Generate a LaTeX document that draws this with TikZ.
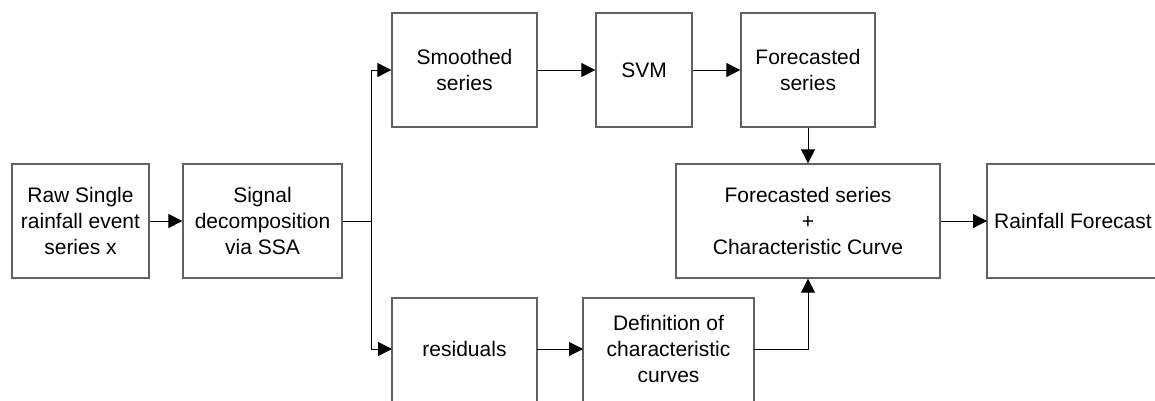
\documentclass[tikz,border=0pt]{standalone}
\usepackage{fontspec}
\setmainfont{Liberation Sans}
\usetikzlibrary{arrows.meta}
\begin{document}
\begin{tikzpicture}[x=1pt,y=-1pt,
  box/.style={draw=black!62,line width=1.3pt,inner sep=0pt,align=center,
    font=\fontsize{21}{26}\selectfont},
  cutbox/.style={box,draw=none,outer sep=0pt},
  boxside/.style={draw=black!62,line width=1.5pt},
  conn/.style={draw=black,line width=1pt,-{Triangle[length=14pt,width=14pt]}},
  plain/.style={draw=black,line width=1pt}]
\useasboundingbox (0,0) rectangle (1155,400);
\clip (0,0) rectangle (1155,400);
\node[box,minimum width=137pt,minimum height=114pt] (raw) at (80.5,221) {Raw Single\\rainfall event\\series x};
\node[box,minimum width=159pt,minimum height=114pt] (sig) at (262.5,221) {Signal\\decomposition\\via SSA};
\node[box,minimum width=145pt,minimum height=114pt] (smo) at (464.5,70) {Smoothed\\series};
\node[box,minimum width=96pt,minimum height=114pt] (svm) at (644,70) {SVM};
\node[box,minimum width=134pt,minimum height=114pt] (fs) at (808,70) {Forecasted\\series};
\node[box,minimum width=264pt,minimum height=114pt] (big) at (808,221) {Forecasted series\\+\\Characteristic Curve};
\node[cutbox,minimum width=172pt,minimum height=114pt] (rf) at (1073,221) {Rainfall Forecast};
\node[cutbox,minimum width=145pt,minimum height=102pt] (res) at (464.5,349) {residuals};
\node[cutbox,minimum width=171pt,minimum height=102pt] (def) at (668.5,349) {Definition of\\characteristic\\curves};
\draw[boxside] ([xshift=60pt]rf.north east) -- (rf.north west) -- (rf.south west) -- ([xshift=60pt]rf.south east);
\draw[boxside] ([yshift=-30pt]res.south west) -- (res.north west) -- (res.north east) -- ([yshift=-30pt]res.south east);
\draw[boxside] ([yshift=-30pt]def.south west) -- (def.north west) -- (def.north east) -- ([yshift=-30pt]def.south east);
\coordinate (split) at (371,221);
\draw[conn] (raw.east) -- (sig.west);
\draw[plain] (sig.east) -- (split);
\draw[conn] (split) |- (smo.west);
\draw[conn] (split) |- (res.west);
\draw[conn] (smo.east) -- (svm.west);
\draw[conn] (svm.east) -- (fs.west);
\draw[conn] (fs.south) -- (big.north);
\draw[conn] (big.east) -- (rf.west);
\draw[conn] (res.east) -- (def.west);
\draw[conn] (def.east) -| (big.south);
\end{tikzpicture}
\end{document}
